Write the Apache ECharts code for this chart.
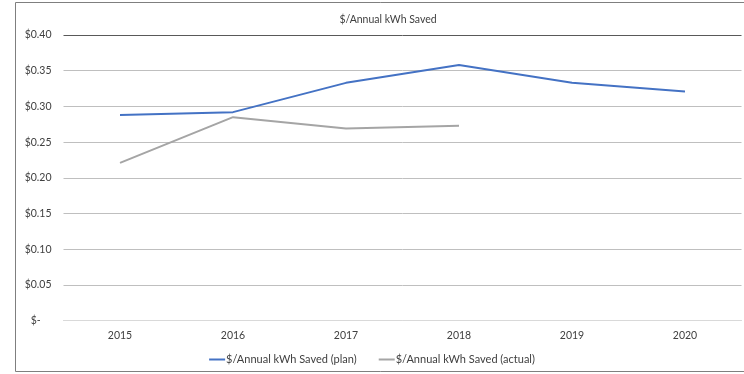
<!DOCTYPE html>
<html><head><meta charset="utf-8">
<script src="https://cdn.jsdelivr.net/npm/echarts@6/dist/echarts.min.js"></script>
<style>html,body{margin:0;padding:0;background:#fff}#c{width:744px;height:374px}</style>
</head><body><div id="c"></div>
<script>
const categories = ['2015','2016','2017','2018','2019','2020'];
const planValues = [0.288, 0.292, 0.333, 0.358, 0.333, 0.321];
const actualValues = [0.221, 0.285, 0.269, 0.273, null, null];
const yTicks = [0, 0.05, 0.10, 0.15, 0.20, 0.25, 0.30, 0.35, 0.40];
const titleText = '$/Annual kWh Saved';
const planName = '$/Annual kWh Saved (plan)';
const actualName = '$/Annual kWh Saved (actual)';

const chart = echarts.init(document.getElementById('c'), null, {renderer:'canvas'});
const font = 'Lato, "Open Sans", sans-serif';
chart.setOption({
  animation:false,
  textStyle:{fontFamily:font},
  title:{text:titleText,left:383,top:9,textAlign:'center',
    textStyle:{fontSize:10.5,fontWeight:'normal',color:'#404040',fontFamily:font}},
  graphic:[{type:'rect',shape:{x:15.5,y:2.5,width:740,height:369},
    style:{fill:'none',stroke:'#7f7f7f',lineWidth:1},silent:true,z:-1}],
  legend:{top:349,left:'center',itemGap:22,itemWidth:16,itemHeight:2,
    icon:'rect',textStyle:{fontSize:11,color:'#404040',fontFamily:font,padding:[0,0,0,-4]},
    data:[planName,actualName]},
  grid:{left:63.5,right:2.5,top:35,bottom:53.3,containLabel:false},
  xAxis:{type:'category',data:categories,boundaryGap:true,
    axisLine:{show:true,lineStyle:{color:'#d9d9d9'}},axisTick:{show:false},
    axisLabel:{fontSize:10.5,color:'#404040',margin:9,fontFamily:font}},
  yAxis:{type:'value',min:0,max:0.4,interval:0.05,
    axisLine:{show:false},axisTick:{show:false},
    splitLine:{lineStyle:{color:['#d9d9d9','#bfbfbf','#bfbfbf','#bfbfbf','#bfbfbf','#bfbfbf','#bfbfbf','#bfbfbf','#595959']}},
    axisLabel:{fontSize:10.5,color:'#404040',margin:12,fontFamily:font,
      formatter:v=>{const t=yTicks.find(x=>Math.abs(x-v)<1e-9);return t===0?'$-    ':'$'+v.toFixed(2);}}},
  series:[
    {name:planName,type:'line',data:planValues,symbol:'none',
      lineStyle:{color:'#4472c4',width:2},itemStyle:{color:'#4472c4'}},
    {name:actualName,type:'line',data:actualValues,symbol:'none',
      lineStyle:{color:'#a5a5a5',width:2},itemStyle:{color:'#a5a5a5'}}
  ]
});
</script></body></html>
